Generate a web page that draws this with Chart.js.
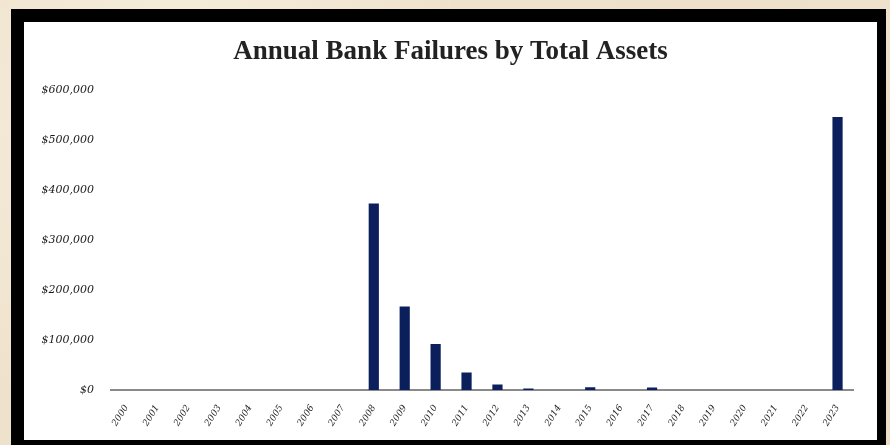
<!DOCTYPE html>
<html>
<head>
<meta charset="utf-8">
<script src="https://cdn.jsdelivr.net/npm/chart.js@4"></script>
<style>
  html, body { margin: 0; padding: 0; }
  body {
    width: 890px; height: 445px; overflow: hidden; position: relative;
    background: #efe2cc;
    background-image:
      radial-gradient(circle at 20% 30%, rgba(255,250,240,0.6), rgba(255,250,240,0) 40%),
      radial-gradient(circle at 80% 70%, rgba(225,205,175,0.5), rgba(225,205,175,0) 45%);
  }
  #frame {
    position: absolute; left: 11px; top: 9px; width: 875px; height: 440px;
    background: #000;
  }
  #panel {
    position: absolute; left: 13px; top: 13px; width: 853px; height: 418px;
    background: #fff;
  }
  canvas { display: block; }
</style>
</head>
<body>
<div id="frame">
  <div id="panel"><canvas id="chart" width="853" height="418"></canvas></div>
</div>
<script>
const years = ['2000','2001','2002','2003','2004','2005','2006','2007','2008','2009','2010','2011',
  '2012','2013','2014','2015','2016','2017','2018','2019','2020','2021','2022','2023']
// total assets of failed banks, $ millions
const totalAssets = [0, 0, 0, 0, 0, 0, 0, 0, 373000, 167000, 92000, 35000,
  11000, 3000, 0, 5500, 0, 5000, 0, 0, 0, 0, 0, 546000]
const yTicks = { min: 0, max: 600000, step: 100000 }

const serif = "'Liberation Serif', 'DejaVu Serif', serif"
const tickSerif = "'DejaVu Serif', serif"

new Chart(document.getElementById('chart').getContext('2d'), {
  type: 'bar',
  data: {
    labels: years,
    datasets: [{
      data: totalAssets,
      backgroundColor: '#0b1f5c',
      barPercentage: 0.33,
      categoryPercentage: 1
    }]
  },
  options: {
    responsive: false,
    animation: false,
    layout: { padding: 0 },
    plugins: {
      legend: { display: false },
      tooltip: { enabled: false },
      title: {
        display: true,
        text: 'Annual Bank Failures by Total Assets',
        color: '#222',
        font: { family: serif, size: 27, weight: 'bold' },
        padding: { top: 13.8, bottom: 21.8 }
      }
    },
    scales: {
      x: {
        grid: { display: false },
        border: { color: '#8a8a8a', width: 2 },
        ticks: {
          color: '#1e1e1e',
          font: { family: tickSerif, size: 9, style: 'italic' },
          maxRotation: 58, minRotation: 58, padding: 5
        },
        afterFit: (axis) => { axis.height = 50 }
      },
      y: {
        min: yTicks.min, max: yTicks.max,
        grid: { display: false },
        border: { display: false },
        ticks: {
          stepSize: yTicks.step,
          color: '#1a1a1a',
          padding: 9,
          font: { family: tickSerif, size: 11, style: 'italic' },
          callback: (v) => '$' + v.toLocaleString('en-US')
        },
        afterFit: (axis) => { axis.width = 87 }
      },
      // empty right-hand axis, only to keep the plot clear of the right edge
      yRight: {
        position: 'right',
        grid: { display: false },
        border: { display: false },
        ticks: { display: false },
        afterFit: (axis) => { axis.width = 24 }
      }
    }
  }
})
</script>
</body>
</html>
